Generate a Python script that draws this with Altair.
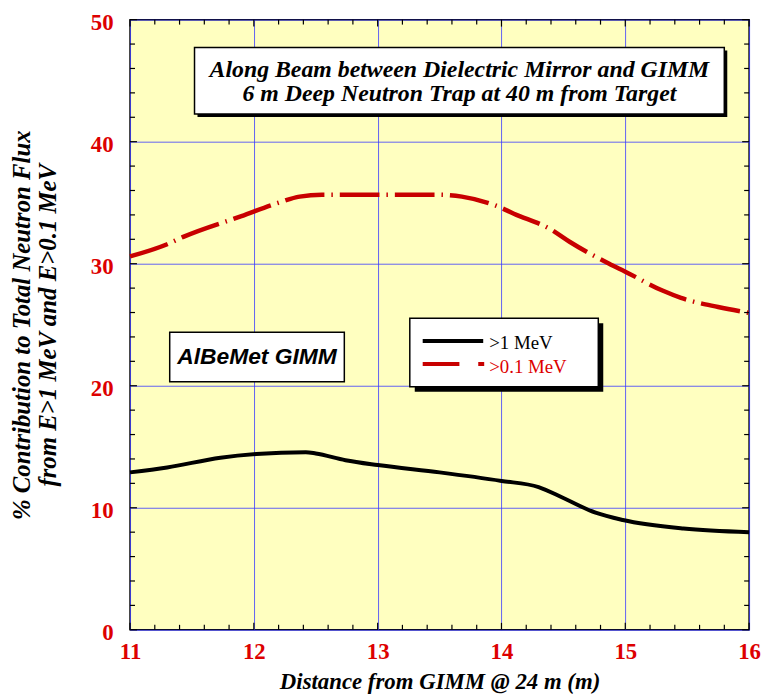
import altair as alt
import pandas as pd

# ---- data ----
x_black = [11.0, 11.3, 11.73, 12.02, 12.42, 12.5, 12.74, 13.0, 13.5, 14.0, 14.3, 14.5, 14.76, 14.98, 15.47, 16.0]
y_black = [12.9, 13.3, 14.1, 14.4, 14.55, 14.45, 13.9, 13.5, 12.9, 12.2, 11.7, 10.8, 9.6, 9.0, 8.3, 8.0]

x_red = [11.0, 11.3, 11.43, 11.9, 12.2, 12.37, 12.55, 13.0, 13.5, 13.68, 13.97, 14.1, 14.4, 14.55, 14.87, 15.0, 15.3, 15.45, 15.75, 16.0]
y_red = [30.6, 31.6, 32.2, 33.9, 35.0, 35.5, 35.65, 35.65, 35.65, 35.5, 34.7, 34.1, 32.8, 31.8, 30.0, 29.35, 27.8, 27.2, 26.45, 25.97]

x_ticks_major = [11, 12, 13, 14, 15, 16]
y_ticks_major = [0, 10, 20, 30, 40, 50]
x_ticks_minor = [11.2, 11.4, 11.6, 11.8, 12.2, 12.4, 12.6, 12.8, 13.2, 13.4, 13.6, 13.8,
                 14.2, 14.4, 14.6, 14.8, 15.2, 15.4, 15.6, 15.8]
y_ticks_minor = [2, 4, 6, 8, 12, 14, 16, 18, 22, 24, 26, 28, 32, 34, 36, 38, 42, 44, 46, 48]

W, H = 624, 615
SERIF = "Liberation Serif"
RED_LABEL = "#dd0000"
RED_LINE = "#c80000"
DASH = [40, 7, 1.5, 7]

xs = alt.Scale(domain=[11, 16], nice=False, zero=False)
ys = alt.Scale(domain=[0, 50], nice=False, zero=False)

df_black = pd.DataFrame({"x": x_black, "y": y_black})
df_red = pd.DataFrame({"x": x_red, "y": y_red})

x_axis = alt.Axis(values=x_ticks_major, format="d", title="Distance from GIMM @ 24 m (m)",
                  ticks=False, domain=False, labelPadding=11, titlePadding=7,
                  labelFlush=False, titleFontSize=23)
y_axis = alt.Axis(values=y_ticks_major, format="d",
                  title=["% Contribution to Total Neutron Flux", "from E>1 MeV and E>0.1 MeV"],
                  ticks=False, domain=False, labelPadding=17, titlePadding=30,
                  labelOffset=3, labelFlush=False, titleFontSize=25, titleLineHeight=26)

black_line = alt.Chart(df_black).mark_line(
    color="black", strokeWidth=4, interpolate="monotone"
).encode(x=alt.X("x:Q", scale=xs, axis=x_axis), y=alt.Y("y:Q", scale=ys, axis=y_axis))

red_line = alt.Chart(df_red).mark_line(
    color=RED_LINE, strokeWidth=4.5, interpolate="monotone", strokeDash=DASH, strokeCap="butt"
).encode(x=alt.X("x:Q", scale=xs), y=alt.Y("y:Q", scale=ys))

# ---- inward ticks on all sides ----
def yticks(vals, size):
    d = pd.DataFrame({"v": vals})
    left = alt.Chart(d).mark_rule(color="black", strokeWidth=1.2).encode(
        y=alt.Y("v:Q", scale=ys), x=alt.value(0), x2=alt.value(size))
    right = alt.Chart(d).mark_rule(color="black", strokeWidth=1.2).encode(
        y=alt.Y("v:Q", scale=ys), x=alt.value(W - size), x2=alt.value(W))
    return [left, right]

def xticks(vals, size):
    d = pd.DataFrame({"v": vals})
    bottom = alt.Chart(d).mark_rule(color="black", strokeWidth=1.2).encode(
        x=alt.X("v:Q", scale=xs), y=alt.value(H - size), y2=alt.value(H))
    top = alt.Chart(d).mark_rule(color="black", strokeWidth=1.2).encode(
        x=alt.X("v:Q", scale=xs), y=alt.value(0), y2=alt.value(size))
    return [bottom, top]

tick_layers = yticks(y_ticks_major, 7) + yticks(y_ticks_minor, 5) + xticks(x_ticks_major, 7) + xticks(x_ticks_minor, 5)

one = pd.DataFrame({"a": [0]})

def box(x1, y1, x2, y2, shadow=0, sw=1.5):
    layers = []
    if shadow:
        layers.append(alt.Chart(one).mark_rect(color="black").encode(
            x=alt.value(x1 + shadow), x2=alt.value(x2 + shadow),
            y=alt.value(y1 + shadow), y2=alt.value(y2 + shadow)))
    layers.append(alt.Chart(one).mark_rect(fill="white", stroke="black", strokeWidth=sw).encode(
        x=alt.value(x1), x2=alt.value(x2), y=alt.value(y1), y2=alt.value(y2)))
    return layers

def text(s, x, y, size, color="black", style="italic", weight="bold", align="center", font=SERIF):
    return alt.Chart(one).mark_text(
        text=s, font=font, fontSize=size, fontStyle=style, fontWeight=weight,
        color=color, align=align, baseline="middle"
    ).encode(x=alt.value(x), y=alt.value(y))

# plot origin is at page (131, 17)
title_box = box(65, 28, 599, 95, shadow=3) + [
    text("Along Beam between Dielectric Mirror and GIMM", 332, 51, 24),
    text("6 m Deep Neutron Trap at 40 m from Target", 332, 75, 24),
]

legend_box = box(282, 301, 472, 370, shadow=5) + [
    alt.Chart(one).mark_rule(color="black", strokeWidth=4).encode(
        x=alt.value(295), x2=alt.value(356), y=alt.value(324)),
    alt.Chart(one).mark_rule(color=RED_LINE, strokeWidth=4, strokeDash=[37, 19, 6, 8], strokeCap="butt").encode(
        x=alt.value(295), x2=alt.value(357), y=alt.value(347)),
    text(">1 MeV", 362, 326, 19, style="normal", weight="normal", align="left"),
    text(">0.1 MeV", 362, 350, 19, color=RED_LABEL, style="normal", weight="normal", align="left"),
]

albemet_box = box(40, 315, 216, 365, sw=1.5) + [
    text("AlBeMet GIMM", 128, 340, 23, font="Liberation Sans"),
]

chart = alt.layer(
    black_line, red_line, *tick_layers, *title_box, *legend_box, *albemet_box
).properties(
    width=W, height=H,
    autosize=alt.AutoSizeParams(type="none"),
    padding={"left": 123, "top": 9, "right": 12, "bottom": 66},
).configure_view(
    fill="#FFFFC0", stroke="black", strokeWidth=1.5
).configure_axis(
    grid=True, gridColor="#3a3aff", gridWidth=0.8,
    labelFont=SERIF, labelFontSize=23, labelFontWeight="bold", labelColor=RED_LABEL,
    titleFont=SERIF, titleFontWeight="bold", titleFontStyle="italic",
    titleColor="black",
)

chart.save("out.html", embed_options={"renderer": "svg", "actions": False})
